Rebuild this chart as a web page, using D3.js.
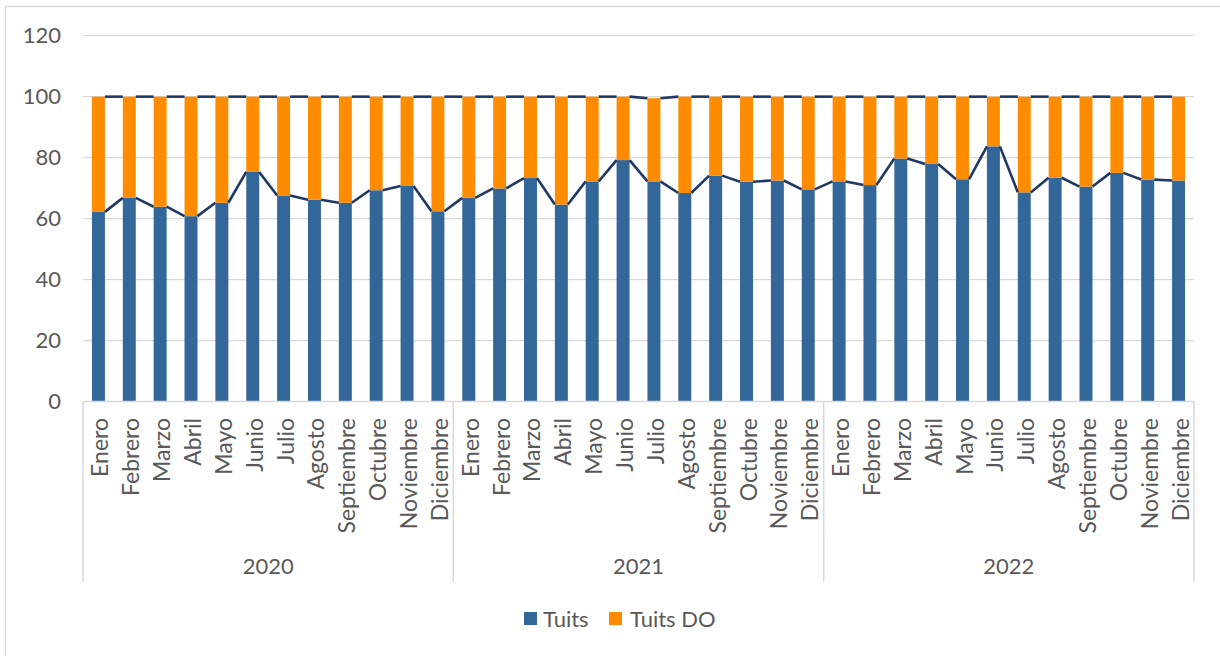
<!DOCTYPE html>
<html>
<head>
<meta charset="utf-8">
<script src="https://cdn.jsdelivr.net/npm/d3@7"></script>
<style>
  html, body { margin: 0; padding: 0; background: #fff; }
  svg { display: block; }
  text { font-family: Lato, "Open Sans", sans-serif; fill: #595959; }
</style>
</head>
<body>
<svg id="chart" width="1220" height="656"></svg>
<script>
// Months and years of the two-level category axis
const months = ["Enero", "Febrero", "Marzo", "Abril", "Mayo", "Junio", "Julio",
  "Agosto", "Septiembre", "Octubre", "Noviembre", "Diciembre"];
const years = ["2020", "2021", "2022"];

// Share of "Tuits" per month (%)
const tuits2020 = [62.2, 66.8, 63.9, 60.8, 65.2, 75.3, 67.6, 66.2, 65.2, 69.3, 70.7, 62.4];
const tuits2021 = [66.8, 69.9, 73.3, 64.6, 72.2, 79.2, 72.2, 68.4, 74.1, 72.1, 72.5, 69.6];
const tuits2022 = [72.2, 71.0, 79.7, 77.9, 72.9, 83.7, 68.6, 73.4, 70.5, 75.0, 72.8, 72.5];

// Share of "Tuits DO" per month (%)
const tuitsDO2020 = [37.8, 33.2, 36.1, 39.2, 34.8, 24.7, 32.4, 33.8, 34.8, 30.7, 29.3, 37.6];
const tuitsDO2021 = [33.2, 30.1, 26.7, 35.4, 27.8, 20.8, 27.3, 31.6, 25.9, 27.9, 27.5, 30.4];
const tuitsDO2022 = [27.8, 29.0, 20.3, 22.1, 27.1, 16.3, 31.4, 26.6, 29.5, 25.0, 27.2, 27.5];

const yTicks = [0, 20, 40, 60, 80, 100, 120];
const seriesNames = ["Tuits", "Tuits DO"];
const colors = { "Tuits": "#336699", "Tuits DO": "#FF8C00" };
const seriesLineColor = "#203864";

// Flat table built from the arrays above
const tuitsByYear = [tuits2020, tuits2021, tuits2022];
const doByYear = [tuitsDO2020, tuitsDO2021, tuitsDO2022];
const rows = [];
years.forEach((yr, yi) => {
  months.forEach((m, mi) => {
    rows.push({ key: yr + "-" + m, year: yr, month: m,
      "Tuits": tuitsByYear[yi][mi], "Tuits DO": doByYear[yi][mi] });
  });
});

const svg = d3.select("#chart");
const plot = { left: 83, right: 1194, top: 35.7, bottom: 401.5 };

// Outer chart frame
svg.append("rect")
  .attr("x", 5.5).attr("y", 6.5).attr("width", 1240).attr("height", 680)
  .attr("fill", "none").attr("stroke", "#D9D9D9").attr("stroke-width", 1.5);

const x = d3.scaleBand()
  .domain(rows.map(d => d.key))
  .range([plot.left, plot.right])
  .paddingInner(0.58)
  .paddingOuter(0.29);

const y = d3.scaleLinear().domain([0, 120]).range([plot.bottom, plot.top]);

// Horizontal gridlines
svg.append("g")
  .selectAll("line")
  .data(yTicks.filter(t => t > 0))
  .join("line")
  .attr("x1", plot.left).attr("x2", plot.right)
  .attr("y1", d => y(d)).attr("y2", d => y(d))
  .attr("stroke", "#D9D9D9").attr("stroke-width", 1.3);

// Value axis labels
const yAxis = d3.axisLeft(y).tickValues(yTicks).tickSize(0).tickPadding(0);
const yg = svg.append("g").attr("transform", "translate(61,0)").call(yAxis);
yg.select(".domain").remove();
yg.selectAll("text")
  .attr("font-size", 22)
  .attr("fill", "#595959")
  .style("font-family", "Lato, 'Open Sans', sans-serif");

// Stacked bars
const stack = d3.stack().keys(seriesNames);
const stacked = stack(rows);

svg.append("g")
  .selectAll("g")
  .data(stacked)
  .join("g")
  .attr("fill", s => colors[s.key])
  .selectAll("rect")
  .data(s => s)
  .join("rect")
  .attr("x", d => x(d.data.key))
  .attr("width", x.bandwidth())
  .attr("y", d => y(d[1]))
  .attr("height", d => y(d[0]) - y(d[1]));

// Series lines joining the top of each segment to the next column
stacked.forEach(s => {
  const segs = [];
  for (let i = 0; i < s.length - 1; i++) {
    segs.push({
      x1: x(s[i].data.key) + x.bandwidth(), y1: y(s[i][1]),
      x2: x(s[i + 1].data.key), y2: y(s[i + 1][1])
    });
  }
  svg.append("g")
    .selectAll("line")
    .data(segs)
    .join("line")
    .attr("x1", d => d.x1).attr("y1", d => d.y1)
    .attr("x2", d => d.x2).attr("y2", d => d.y2)
    .attr("stroke", seriesLineColor)
    .attr("stroke-width", 2.6)
    .attr("stroke-linecap", "butt");
});

// Category axis line
svg.append("line")
  .attr("x1", plot.left).attr("x2", plot.right)
  .attr("y1", plot.bottom).attr("y2", plot.bottom)
  .attr("stroke", "#D9D9D9").attr("stroke-width", 1.5);

// Year group separators
const yearEdges = years.map(yr => x(yr + "-" + months[0]) - x.step() * x.paddingOuter());
yearEdges.push(plot.right);
svg.append("g")
  .selectAll("line")
  .data(yearEdges)
  .join("line")
  .attr("x1", d => d).attr("x2", d => d)
  .attr("y1", plot.bottom).attr("y2", 582)
  .attr("stroke", "#D9D9D9").attr("stroke-width", 1.5);

// Month labels (rotated)
svg.append("g")
  .selectAll("text")
  .data(rows)
  .join("text")
  .attr("transform", d => `translate(${x(d.key) + x.bandwidth() / 2 + 1},418) rotate(-90)`)
  .attr("text-anchor", "end")
  .attr("dominant-baseline", "central")
  .attr("font-size", 23)
  .text(d => d.month);

// Year labels
svg.append("g")
  .selectAll("text")
  .data(years)
  .join("text")
  .attr("x", (d, i) => (yearEdges[i] + yearEdges[i + 1]) / 2)
  .attr("y", 565)
  .attr("text-anchor", "middle")
  .attr("dominant-baseline", "central")
  .attr("font-size", 22)
  .text(d => d);

// Legend
const legendItems = [
  { name: "Tuits", sx: 524, tx: 543 },
  { name: "Tuits DO", sx: 609, tx: 630 }
];
const lg = svg.append("g");
lg.selectAll("rect")
  .data(legendItems)
  .join("rect")
  .attr("x", d => d.sx).attr("y", 612)
  .attr("width", 13).attr("height", 13)
  .attr("fill", d => colors[d.name]);
lg.selectAll("text")
  .data(legendItems)
  .join("text")
  .attr("x", d => d.tx).attr("y", 618.5)
  .attr("dominant-baseline", "central")
  .attr("font-size", 22)
  .text(d => d.name);
</script>
</body>
</html>
